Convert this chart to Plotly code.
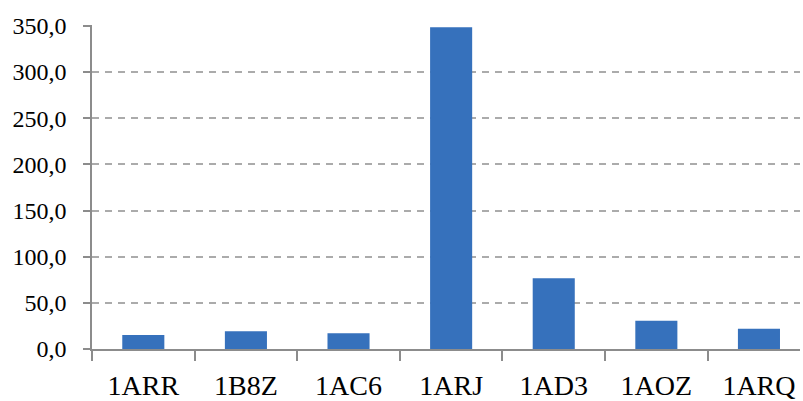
import plotly.graph_objects as go

# Structures and their measured values
structures = ["1ARR", "1B8Z", "1AC6", "1ARJ", "1AD3", "1AOZ", "1ARQ"]
values = [15.2, 19.1, 17.0, 348.5, 76.6, 30.7, 22.0]

y_ticks = [0, 50, 100, 150, 200, 250, 300, 350]

fig = go.Figure(
    go.Bar(
        x=structures,
        y=values,
        marker=dict(color="#3671BC", line=dict(width=0)),
        width=0.41,
        hoverinfo="x+y",
    )
)

serif = "'Liberation Serif', 'Times New Roman', 'DejaVu Serif', serif"

fig.update_layout(
    width=803,
    height=401,
    margin=dict(l=92, r=3, t=25, b=52),
    paper_bgcolor="white",
    plot_bgcolor="white",
    separators=",.",
    showlegend=False,
    font=dict(family=serif, color="black"),
)

fig.update_xaxes(
    type="category",
    range=[-0.5, 6.4],
    automargin=False,
    showgrid=False,
    showline=True,
    linecolor="#8C8C8C",
    linewidth=1.5,
    ticks="outside",
    tickson="boundaries",
    ticklen=10,
    tickwidth=1.5,
    tickcolor="#8C8C8C",
    tickfont=dict(size=28, family=serif, color="black"),
    ticklabelstandoff=11,
)

fig.update_yaxes(
    range=[0, 351],
    automargin=False,
    tickvals=y_ticks,
    tickformat=".1f",
    showline=True,
    linecolor="#8C8C8C",
    linewidth=1.5,
    ticks="outside",
    ticklen=7,
    tickwidth=1.5,
    tickcolor="#8C8C8C",
    showgrid=True,
    gridcolor="#ABABAB",
    gridwidth=1.5,
    griddash="7px,6px",
    zeroline=False,
    tickfont=dict(size=24, family=serif, color="black"),
    ticklabelstandoff=12,
)

fig.write_html("out.html")
